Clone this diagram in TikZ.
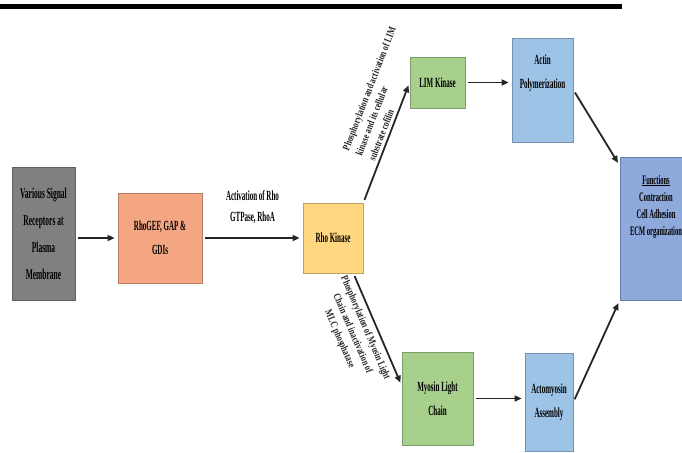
\documentclass[tikz,border=0pt]{standalone}
\usepackage{fontspec}
\setmainfont{Liberation Serif}
\newfontfamily\boxfont[FakeStretch=0.5]{Liberation Serif}
\newfontfamily\diagfont[FakeStretch=0.75]{Liberation Serif}
\usepackage{xcolor}
\usetikzlibrary{arrows.meta}
\definecolor{sigfill}{HTML}{808080}
\definecolor{geffill}{HTML}{F4A683}
\definecolor{rhofill}{HTML}{FFD780}
\definecolor{greenfill}{HTML}{A8D08D}
\definecolor{bluefill}{HTML}{9DC3E6}
\definecolor{funfill}{HTML}{8EA9DB}
\tikzset{
  box/.style={rectangle, fill=#1, draw=#1!75!black, line width=0.8pt, align=center, inner sep=1pt,
    font=\boxfont\bfseries\fontsize{14}{24}\selectfont},
  arr/.style={draw=black!85, line width=1.8pt, -{Triangle[length=7pt,width=6pt]}, shorten <=3pt, shorten >=3pt},
  diag/.style={font=\diagfont\bfseries\fontsize{10.5}{14}\selectfont, text=black!85, inner sep=3pt}
}

\begin{document}
\begin{tikzpicture}[x=1pt, y=-1pt]
    \useasboundingbox (0,0) rectangle (682,452);
    \draw[line width=5pt] (0,6.5) -- (622,6.5);

    \node[box=sigfill, minimum width=63pt, minimum height=133pt, font=\boxfont\bfseries\fontsize{15}{27}\selectfont] (sig) at (43.5,233.5) {Various Signal\\Receptors at\\Plasma\\Membrane};
    \node[box=geffill, minimum width=84pt, minimum height=90pt] (gef) at (160,238) {RhoGEF, GAP \&\\GDIs};
    \node[box=rhofill, minimum width=60pt, minimum height=70pt] (rho) at (333,238) {Rho Kinase};
    \node[box=greenfill, minimum width=55pt, minimum height=51pt] (lim) at (437.5,82.5) {LIM Kinase};
    \node[box=bluefill, minimum width=61pt, minimum height=104pt] (act) at (542.5,90) {Actin\\Polymerization\\[12pt]};
    \node[box=greenfill, minimum width=71pt, minimum height=93pt] (mlc) at (437.5,398.5) {Myosin Light\\Chain};
    \node[box=bluefill, minimum width=48pt, minimum height=98pt] (amy) at (549,402) {Actomyosin\\Assembly};
    \node[box=funfill, minimum width=72pt, minimum height=143pt, font=\boxfont\bfseries\fontsize{13}{17}\selectfont] (fun) at (656,228.5) {\underline{Functions}\\Contraction\\Cell Adhesion\\ECM organization\\[30pt]};

    \draw[arr] (gef.west -| sig.east) -- (gef.west);
    \draw[arr] (gef) -- (rho) node[midway, above=10pt, align=center, font=\boxfont\bfseries\fontsize{14}{21}\selectfont] (gtp) {Activation of Rho\\GTPase, RhoA};
    \draw[arr] (rho.north east) -- (lim.west) node[pos=0.3, sloped, anchor=south west, align=left, diag] (plim) {Phosphorylation and activation of LIM\\kinase and its cellular\\substrate cofilin};
    \draw[arr] (rho.-60) -- (mlc.160) node[pos=0.45, sloped, below=2pt, align=center, diag] (pmlc) {Phosphorylation of Myosin Light\\Chain and inactivation of\\MLC phosphatase};
    \draw[arr] (lim.east) -- (lim.east -| act.west);
    \draw[arr] (mlc.east) -- (mlc.east -| amy.west);
    \draw[arr] (act.east) -- (fun.120);
    \draw[arr] (amy.east) -- (fun.south west);
\end{tikzpicture}
\end{document}
